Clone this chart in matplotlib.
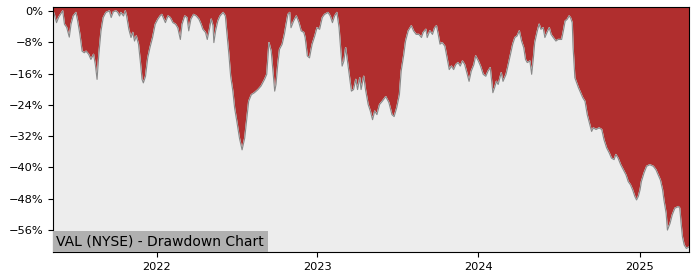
import pandas as pd
import matplotlib
matplotlib.use("Agg")
import matplotlib.pyplot as plt
import matplotlib.dates as mdates
from matplotlib.ticker import PercentFormatter, MultipleLocator

# ---- data: drawdown from running peak (%) ----
dates = [
    "2021-05-11", "2021-05-14", "2021-05-19", "2021-05-24", "2021-05-28", "2021-06-02",
    "2021-06-06", "2021-06-11", "2021-06-17", "2021-06-21", "2021-06-26", "2021-07-02",
    "2021-07-06", "2021-07-11", "2021-07-16", "2021-07-21", "2021-07-25", "2021-07-31",
    "2021-08-05", "2021-08-11", "2021-08-15", "2021-08-19", "2021-08-23", "2021-08-28",
    "2021-09-02", "2021-09-08", "2021-09-16", "2021-09-20", "2021-09-25", "2021-10-01",
    "2021-10-05", "2021-10-09", "2021-10-12", "2021-10-18", "2021-10-22", "2021-10-25",
    "2021-10-30", "2021-11-04", "2021-11-08", "2021-11-12", "2021-11-16", "2021-11-21",
    "2021-11-25", "2021-11-29", "2021-12-02", "2021-12-07", "2021-12-12", "2021-12-17",
    "2021-12-23", "2021-12-29", "2022-01-04", "2022-01-09", "2022-01-13", "2022-01-21",
    "2022-01-27", "2022-02-01", "2022-02-07", "2022-02-13", "2022-02-18", "2022-02-24",
    "2022-02-28", "2022-03-06", "2022-03-11", "2022-03-15", "2022-03-20", "2022-03-26",
    "2022-04-01", "2022-04-07", "2022-04-12", "2022-04-16", "2022-04-22", "2022-04-26",
    "2022-05-01", "2022-05-05", "2022-05-09", "2022-05-11", "2022-05-15", "2022-05-20",
    "2022-05-25", "2022-06-01", "2022-06-06", "2022-06-09", "2022-06-14", "2022-06-18",
    "2022-06-23", "2022-06-27", "2022-07-02", "2022-07-08", "2022-07-14", "2022-07-20",
    "2022-07-25", "2022-07-29", "2022-08-04", "2022-08-11", "2022-08-19", "2022-08-26",
    "2022-09-03", "2022-09-08", "2022-09-13", "2022-09-18", "2022-09-22", "2022-09-26",
    "2022-09-29", "2022-10-03", "2022-10-07", "2022-10-13", "2022-10-18", "2022-10-22",
    "2022-10-26", "2022-10-30", "2022-11-02", "2022-11-08", "2022-11-14", "2022-11-20",
    "2022-11-25", "2022-12-01", "2022-12-04", "2022-12-09", "2022-12-14", "2022-12-20",
    "2022-12-26", "2022-12-31", "2023-01-06", "2023-01-12", "2023-01-17", "2023-01-25",
    "2023-01-30", "2023-02-04", "2023-02-09", "2023-02-14", "2023-02-19", "2023-02-23",
    "2023-02-26", "2023-03-02", "2023-03-06", "2023-03-11", "2023-03-15", "2023-03-19",
    "2023-03-24", "2023-03-29", "2023-04-02", "2023-04-07", "2023-04-10", "2023-04-16",
    "2023-04-20", "2023-04-26", "2023-05-01", "2023-05-06", "2023-05-11", "2023-05-16",
    "2023-05-22", "2023-05-28", "2023-06-05", "2023-06-12", "2023-06-19", "2023-06-24",
    "2023-06-30", "2023-07-06", "2023-07-10", "2023-07-16", "2023-07-20", "2023-07-26",
    "2023-08-02", "2023-08-07", "2023-08-13", "2023-08-19", "2023-08-25", "2023-08-29",
    "2023-09-04", "2023-09-07", "2023-09-13", "2023-09-19", "2023-09-24", "2023-09-28",
    "2023-10-02", "2023-10-06", "2023-10-11", "2023-10-17", "2023-10-22", "2023-10-27",
    "2023-11-01", "2023-11-06", "2023-11-11", "2023-11-16", "2023-11-21", "2023-11-26",
    "2023-12-01", "2023-12-05", "2023-12-11", "2023-12-16", "2023-12-22", "2023-12-26",
    "2024-01-01", "2024-01-06", "2024-01-12", "2024-01-18", "2024-01-23", "2024-01-28",
    "2024-02-03", "2024-02-07", "2024-02-11", "2024-02-15", "2024-02-19", "2024-02-22",
    "2024-02-26", "2024-03-04", "2024-03-09", "2024-03-14", "2024-03-19", "2024-03-24",
    "2024-03-29", "2024-04-03", "2024-04-08", "2024-04-13", "2024-04-17", "2024-04-21",
    "2024-04-27", "2024-05-01", "2024-05-05", "2024-05-08", "2024-05-14", "2024-05-18",
    "2024-05-22", "2024-05-27", "2024-05-31", "2024-06-05", "2024-06-10", "2024-06-14",
    "2024-06-19", "2024-06-25", "2024-06-30", "2024-07-08", "2024-07-12", "2024-07-16",
    "2024-07-21", "2024-07-25", "2024-07-28", "2024-08-01", "2024-08-03", "2024-08-07",
    "2024-08-15", "2024-08-20", "2024-08-25", "2024-08-30", "2024-09-04", "2024-09-10",
    "2024-09-14", "2024-09-18", "2024-09-24", "2024-10-01", "2024-10-07", "2024-10-12",
    "2024-10-18", "2024-10-24", "2024-10-29", "2024-11-04", "2024-11-08", "2024-11-13",
    "2024-11-19", "2024-11-25", "2024-12-01", "2024-12-06", "2024-12-11", "2024-12-16",
    "2024-12-21", "2024-12-25", "2024-12-29", "2025-01-02", "2025-01-05", "2025-01-11",
    "2025-01-17", "2025-01-24", "2025-02-01", "2025-02-07", "2025-02-12", "2025-02-17",
    "2025-02-22", "2025-02-25", "2025-03-02", "2025-03-05", "2025-03-11", "2025-03-16",
    "2025-03-22", "2025-03-30", "2025-04-02", "2025-04-05", "2025-04-08", "2025-04-12",
    "2025-04-17", "2025-04-23",
]

drawdown = [
    0.0, -0.9, -3.0, -1.6, -0.9, 0.0,
    -3.4, -4.2, -6.7, -3.4, -1.3, -0.4,
    -2.6, -6.0, -10.3, -10.7, -10.3, -11.1,
    -12.4, -11.1, -13.7, -17.5, -11.1, -5.1,
    -1.7, -0.4, 0.0, -1.7, -0.2, 0.0,
    -0.4, -1.3, -0.4, -1.3, 0.0, -1.3,
    -4.7, -6.8, -5.5, -7.7, -6.4, -8.5,
    -12.8, -17.5, -18.4, -16.7, -12.0, -9.4,
    -6.8, -3.4, -2.1, -1.3, -0.9, -3.0,
    -1.3, -1.7, -3.0, -3.4, -4.3, -7.3,
    -3.4, -1.3, -1.7, -5.1, -2.1, -0.9,
    -1.3, -2.1, -3.4, -4.7, -5.5, -7.3,
    -4.7, -2.1, -3.8, -8.1, -5.1, -2.6,
    -1.3, -0.4, -1.3, -5.1, -11.1, -16.7,
    -20.5, -24.8, -28.2, -32.5, -35.5, -32.5,
    -27.3, -23.1, -21.4, -20.9, -20.1, -19.2,
    -17.5, -16.2, -8.1, -10.3, -15.4, -20.5,
    -18.8, -13.7, -9.8, -8.5, -6.0, -3.4,
    -0.9, -0.4, -4.3, -2.6, -1.3, -3.0,
    -5.1, -5.5, -6.8, -11.5, -12.0, -8.5,
    -6.4, -4.3, -4.7, -1.7, -0.9, -0.4,
    -1.3, -3.0, -1.3, -0.4, -4.3, -10.3,
    -14.1, -12.8, -9.4, -13.7, -17.1, -20.5,
    -20.1, -17.5, -20.1, -17.1, -20.1, -16.7,
    -20.1, -23.9, -25.6, -27.8, -25.6, -26.5,
    -23.9, -23.1, -21.9, -23.4, -26.5, -27.0,
    -24.7, -21.4, -15.4, -11.1, -7.7, -5.1,
    -3.8, -5.1, -6.0, -6.0, -6.8, -5.5,
    -4.7, -6.8, -5.1, -6.0, -4.3, -3.8,
    -6.0, -8.5, -8.1, -9.0, -12.0, -15.0,
    -14.1, -15.0, -13.7, -13.2, -14.1, -12.8,
    -13.7, -15.4, -18.0, -15.4, -13.7, -11.5,
    -12.8, -14.1, -16.2, -16.7, -15.4, -14.5,
    -20.9, -19.6, -18.0, -18.8, -17.1, -15.8,
    -18.0, -16.2, -13.7, -11.1, -8.5, -6.8,
    -6.4, -5.1, -7.7, -9.4, -12.4, -13.2,
    -12.8, -16.2, -12.0, -8.1, -5.1, -3.4,
    -4.7, -4.3, -6.8, -5.5, -4.3, -6.0,
    -6.8, -7.7, -7.3, -7.3, -5.1, -2.6,
    -2.1, -1.3, -1.7, -3.0, -9.4, -17.1,
    -19.6, -20.9, -22.2, -23.1, -26.5, -29.1,
    -30.8, -29.9, -30.3, -29.9, -30.3, -32.9,
    -35.0, -36.3, -37.6, -38.0, -36.7, -37.6,
    -39.3, -40.6, -41.9, -43.6, -44.4, -45.7,
    -47.4, -48.3, -47.4, -45.7, -43.6, -41.4,
    -39.7, -39.3, -39.7, -40.6, -41.9, -43.2,
    -45.7, -48.3, -51.7, -56.0, -54.3, -52.1,
    -50.4, -50.0, -50.4, -54.3, -57.7, -59.8,
    -60.7, -60.3,
]

yticks = [0, -8, -16, -24, -32, -40, -48, -56]
title = "VAL (NYSE) - Drawdown Chart"

# ---- plot ----
x = pd.to_datetime(dates)

fig = plt.figure(figsize=(7, 2.8), dpi=100)
ax = fig.add_axes([0.0757, 0.1, 0.9086, 0.875])

ax.set_facecolor("#b02e2e")
ax.fill_between(x, drawdown, -100, color="#ededed", zorder=1)
ax.plot(x, drawdown, color="#888888", lw=0.8, zorder=2)

ax.set_xlim(x[0], x[-1])
ax.set_ylim(-61.6, 1.0)
ax.set_yticks(yticks)
ax.yaxis.set_major_formatter(PercentFormatter(decimals=0))
ax.xaxis.set_major_locator(mdates.YearLocator())
ax.xaxis.set_major_formatter(mdates.DateFormatter("%Y"))
ax.tick_params(labelsize=8.2)

ax.text(0.0055, 0.014, title, transform=ax.transAxes, ha="left", va="bottom",
        fontsize=10, zorder=5,
        bbox=dict(boxstyle="square,pad=0.25", fc="#b0b0b0", ec="none"))

fig.savefig("out.png", dpi=100)
